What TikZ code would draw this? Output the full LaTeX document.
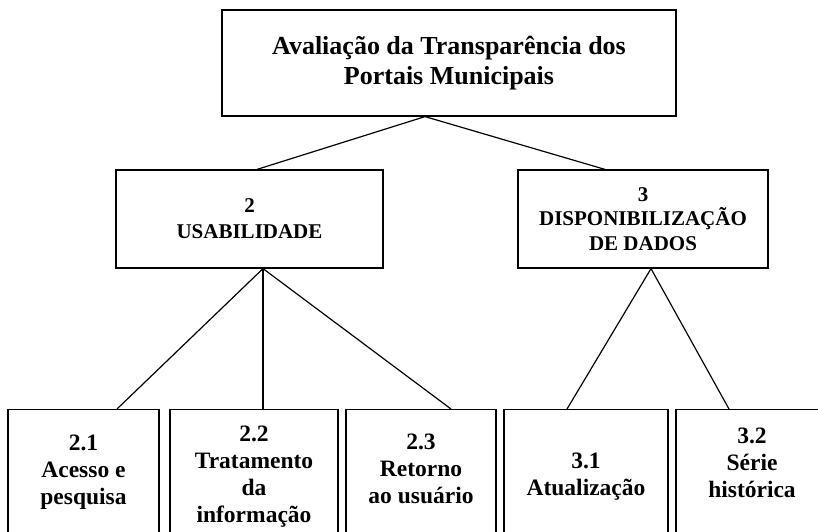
\documentclass[tikz,border=0pt]{standalone}
\usepackage{fontspec}
\setmainfont{Liberation Serif}

\begin{document}
\begin{tikzpicture}[x=1pt,y=-1pt,
  box/.style={draw, line width=1.2pt, align=center, inner sep=0pt},
  leaf/.style={box, anchor=north, minimum height=150pt, text depth=6pt, font=\fontsize{23.5}{27}\selectfont\bfseries}]
\useasboundingbox (0,0) rectangle (818,531);
\clip (0,0) rectangle (818,531);
% raiz
\node [box, minimum width=454pt, minimum height=106pt, font=\fontsize{26}{30}\selectfont\bfseries] (aval) at (449,63) {Avaliação da Transparência dos\\Portais Municipais};
% dimensoes
\node [box, minimum width=267pt, minimum height=98pt, font=\fontsize{21}{26}\selectfont\bfseries] (usab) at (249.5,219) {2\\USABILIDADE};
\node [box, minimum width=250pt, minimum height=98pt, font=\fontsize{21}{24.5}\selectfont\bfseries] (disp) at (643,219) {3\\DISPONIBILIZAÇÃO\\DE DADOS};
% indicadores (bordas inferiores cortadas)
\node [leaf, minimum width=151pt, text height=46pt] (acesso) at (83.5,409) {2.1\\Acesso e\\pesquisa};
\node [leaf, minimum width=168pt, text height=82pt] (trat) at (254,409) {2.2\\Tratamento\\da\\informação};
\node [leaf, minimum width=150pt, text height=44pt] (retorno) at (421,409) {2.3\\Retorno\\ao usuário};
\node [leaf, minimum width=164pt, text height=28pt] (atual) at (586,409) {3.1\\Atualização};
\node [leaf, minimum width=152pt, text height=32pt] (serie) at (752,409) {3.2\\Série\\histórica};
% ligacoes
\draw [line width=1.2pt] ([xshift=-24pt]aval.south) -- ([xshift=7.5pt]usab.north);
\draw [line width=1.2pt] ([xshift=-24pt]aval.south) -- ([xshift=-38pt]disp.north);
\draw [line width=1.2pt] ([xshift=13.5pt]usab.south) -- ([xshift=33.5pt]acesso.north);
\draw [line width=1.2pt] ([xshift=13.5pt]usab.south) -- ([xshift=9pt]trat.north);
\draw [line width=1.2pt] ([xshift=13.5pt]usab.south) -- ([xshift=30pt]retorno.north);
\draw [line width=1.2pt] ([xshift=8pt]disp.south) -- ([xshift=-19pt]atual.north);
\draw [line width=1.2pt] ([xshift=8pt]disp.south) -- ([xshift=-23pt]serie.north);
\end{tikzpicture}
\end{document}
